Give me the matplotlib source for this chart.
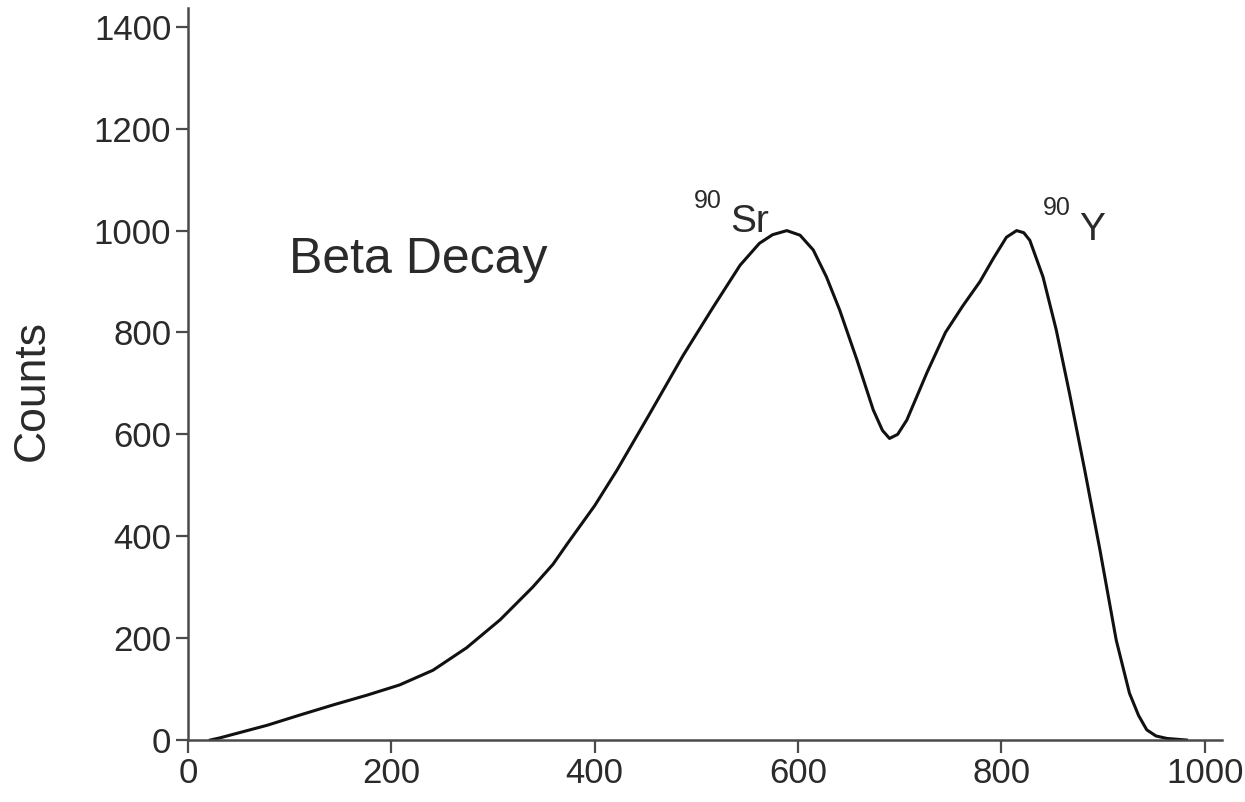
#!/usr/bin/env python3

import matplotlib
matplotlib.use('Agg')
import matplotlib.pyplot as plt

# energy (x) vs counts
ENERGY = [22, 31, 78, 110, 143, 176, 208, 241, 274, 307, 339, 359, 373,
          400, 422, 454, 487, 516, 543, 562, 575, 589, 602, 615, 628, 641,
          658, 674, 683, 690, 698, 707, 727, 745, 762, 779, 792, 805, 815,
          822, 828, 841, 854, 867, 882, 897, 913, 926, 935, 943, 952, 963,
          982]
COUNTS = [0, 4, 29, 49, 69, 88, 108, 137, 181, 236, 300, 345, 385,
          460, 530, 640, 755, 848, 932, 975, 992, 1000, 991, 962, 909, 844,
          746, 648, 608, 592, 600, 628, 722, 800, 852, 900, 945, 987, 1000,
          996, 981, 909, 805, 681, 530, 373, 196, 92, 48, 20, 8, 3,
          0]

XTICKS = [0, 200, 400, 600, 800, 1000]
YTICKS = [0, 200, 400, 600, 800, 1000, 1200, 1400]

TEXT = '#2a2a2a'
SPINE = '#4a4a4a'


def main():
    matplotlib.rc('font', family='Liberation Sans')

    fig = plt.figure(figsize=(12.45, 8.02), dpi=100)
    ax = fig.add_axes([0.151, 0.0773, 0.8305, 0.9127])

    ax.plot(ENERGY, COUNTS, '-', color='#111111', linewidth=2.2,
            solid_joinstyle='round')

    ax.set_xlim(0, 1017)
    ax.set_ylim(0, 1437)
    ax.set_xticks(XTICKS)
    ax.set_yticks(YTICKS)
    ax.tick_params(direction='out', length=9, width=1.6, color=SPINE,
                   labelsize=25, labelcolor=TEXT, pad=3)

    for side in ('top', 'right'):
        ax.spines[side].set_visible(False)
    for side in ('left', 'bottom'):
        ax.spines[side].set_color(SPINE)
        ax.spines[side].set_linewidth(1.8)

    ax.set_ylabel('Counts', fontsize=32, color=TEXT, va='center')
    ax.yaxis.set_label_coords(-0.151, 0.478)

    ax.text(226, 942, 'Beta Decay', fontsize=36, color=TEXT,
            ha='center', va='center')

    # isotope labels with superscript mass numbers
    ax.text(498, 1044, '90', fontsize=18, color=TEXT, ha='left',
            va='baseline')
    ax.text(533, 997, 'Sr', fontsize=28, color=TEXT, ha='left',
            va='baseline')
    ax.text(841, 1030, '90', fontsize=18, color=TEXT, ha='left',
            va='baseline')
    ax.text(877, 981, 'Y', fontsize=28, color=TEXT, ha='left',
            va='baseline')

    fig.savefig('out.png', dpi=100)


if __name__ == '__main__':
    main()
